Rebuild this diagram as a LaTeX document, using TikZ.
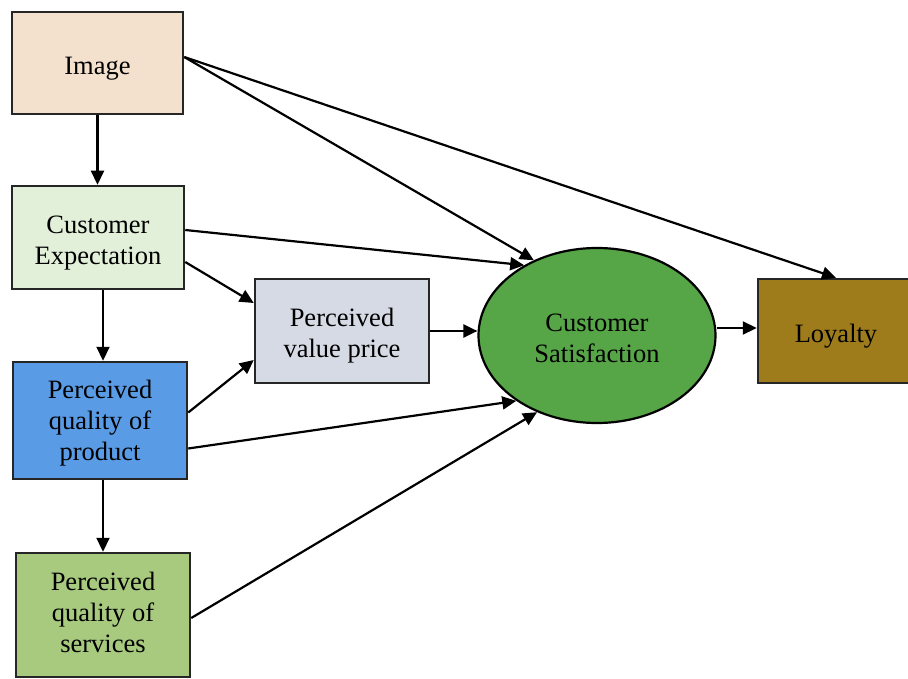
\documentclass[tikz,border=0pt]{standalone}
\usepackage{fontspec}
\setmainfont{Liberation Serif}
\usetikzlibrary{shapes.geometric,arrows.meta,calc}
\definecolor{cimage}{HTML}{F3E1CE}
\definecolor{cexp}{HTML}{E2EFD9}
\definecolor{cprod}{HTML}{5A9BE6}
\definecolor{cserv}{HTML}{A8CA7E}
\definecolor{cvalue}{HTML}{D6DAE4}
\definecolor{csat}{HTML}{56A647}
\definecolor{cloy}{HTML}{9E7C1C}
\definecolor{cborder}{HTML}{262626}
\tikzset{
  box/.style={draw=cborder, line width=2.5pt, rectangle, inner sep=0pt},
  oval/.style={draw=black, line width=2.2pt, ellipse, inner sep=0pt},
  lab/.style={align=center, inner sep=0pt, font=\fontsize{26.5}{31}\selectfont, text=black},
  link/.style={line width=2.2pt, -{Triangle[length=14pt,width=13pt]}}
}
\begin{document}
\begin{tikzpicture}[x=1pt,y=-1pt]
\useasboundingbox (0,0) rectangle (908,679);
\node[box, fill=cimage, minimum width=171pt, minimum height=102pt,
  label={[lab, yshift=-6pt]center:Image}] (img) at (97.5,63) {};
\node[box, fill=cexp, minimum width=172pt, minimum height=103pt,
  label={[lab, yshift=-6pt]center:Customer\\Expectation}] (ce) at (98,237.5) {};
\node[box, fill=cprod, minimum width=174pt, minimum height=117pt,
  label={[lab, yshift=-3pt]center:Perceived\\quality of\\product}] (pqp) at (100,420.5) {};
\node[box, fill=cserv, minimum width=174pt, minimum height=124pt,
  label={[lab, yshift=3pt]center:Perceived\\quality of\\services}] (pqs) at (103,615) {};
\node[box, fill=cvalue, minimum width=174pt, minimum height=104pt,
  label={[lab, yshift=-5pt]center:Perceived\\value price}] (pvp) at (342,331) {};
\node[oval, fill=csat, minimum width=237pt, minimum height=175pt,
  label={[lab, yshift=-3pt]center:Customer\\Satisfaction}] (cs) at (597,335.5) {};
\node[box, fill=cloy, minimum width=156pt, minimum height=104pt,
  label={[lab, yshift=-5pt]center:Loyalty}] (loy) at (836,331) {};
\coordinate (loyin) at ([yshift=3pt]loy.west);

\draw[link] (img.south) -- (img.south |- ce.north);
\draw[link] ([yshift=6pt]img.east) -- (cs.130);
\draw[link] ([yshift=6pt]img.east) -- (loy.north);
\draw[link] ([yshift=7.5pt]ce.east) -- (cs.136);
\draw[link] ([yshift=-24.5pt]ce.east) -- ([yshift=28pt]pvp.west);
\draw[link] (ce.south -| pqs.north) -- (pqp.north -| pqs.north);
\draw[link] ([yshift=8pt]pqp.east) -- ([yshift=-29pt]pvp.west);
\draw[link] ([yshift=-28pt]pqp.east) -- (cs.219);
\draw[link] (pqp.south -| pqs.north) -- (pqs.north);
\draw[link] ([yshift=-3pt]pqs.east) -- (cs.232);
\draw[link] (pvp.east) -- (pvp.east -| cs.west);
\draw[link] (loyin -| cs.east) -- (loyin);
\end{tikzpicture}
\end{document}
